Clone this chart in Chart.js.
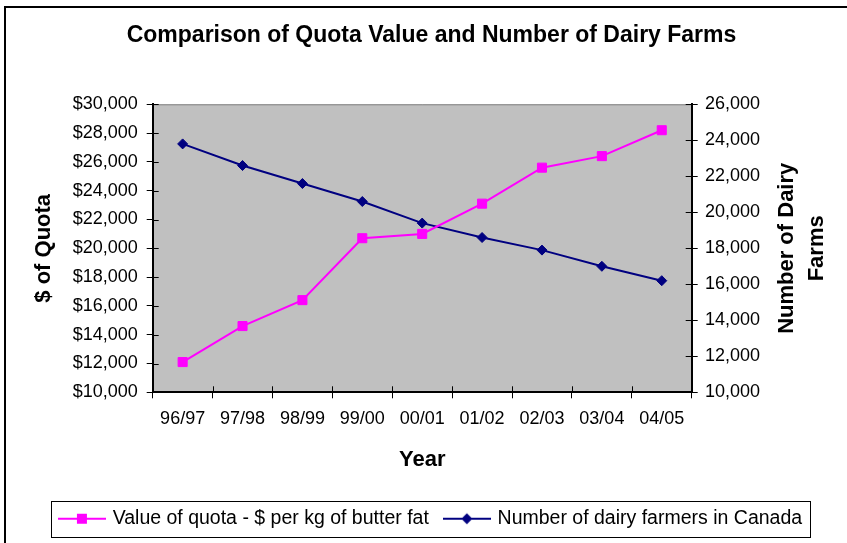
<!DOCTYPE html>
<html>
<head>
<meta charset="utf-8">
<script src="https://cdn.jsdelivr.net/npm/chart.js@4.4.1/dist/chart.umd.min.js"></script>
<style>
  html, body { margin: 0; padding: 0; background: #fff; }
  #wrap { width: 847px; height: 543px; }
</style>
</head>
<body>
<div id="wrap"><canvas id="canvas" width="847" height="543"></canvas></div>
<script>
const years = ['96/97', '97/98', '98/99', '99/00', '00/01', '01/02', '02/03', '03/04', '04/05'];
const quotaValues = [12100, 14600, 16400, 20700, 21000, 23100, 25600, 26400, 28200];
const farmCounts = [23800, 22600, 21600, 20600, 19400, 18600, 17900, 17000, 16200];
const quotaTicks = [10000, 12000, 14000, 16000, 18000, 20000, 22000, 24000, 26000, 28000, 30000];
const farmTicks = [10000, 12000, 14000, 16000, 18000, 20000, 22000, 24000, 26000];
const seriesNames = ['Value of quota - $ per kg of butter fat', 'Number of dairy farmers in Canada'];

const FONT = "'Liberation Sans', Arial, sans-serif";
Chart.defaults.font.family = FONT;
Chart.defaults.color = '#000';

// little line+marker pictures for the legend, like excel draws them
function legendIcon(color, shape) {
  const c = document.createElement('canvas');
  c.width = 48; c.height = 14;
  const g = c.getContext('2d');
  g.strokeStyle = color; g.lineWidth = 2;
  g.beginPath(); g.moveTo(0, 7); g.lineTo(48, 7); g.stroke();
  g.fillStyle = color;
  if (shape === 'rect') {
    g.fillRect(19, 2, 10, 10);
  } else {
    g.beginPath();
    g.moveTo(24, 1.5); g.lineTo(29.5, 7); g.lineTo(24, 12.5); g.lineTo(18.5, 7);
    g.closePath(); g.fill();
  }
  return c;
}
const icons = [legendIcon('#FF00FF', 'rect'), legendIcon('#000080', 'diamond')];

const excelLook = {
  id: 'excelLook',
  beforeDraw(chart) {
    const {ctx, chartArea: a} = chart;
    ctx.save();
    ctx.fillStyle = '#fff';
    ctx.fillRect(0, 0, chart.width, chart.height);
    ctx.fillStyle = '#C0C0C0';
    ctx.fillRect(a.left, a.top, a.right - a.left, a.bottom - a.top);
    ctx.strokeStyle = '#808080';
    ctx.lineWidth = 1;
    ctx.beginPath(); ctx.moveTo(a.left, a.top + 0.5); ctx.lineTo(a.right, a.top + 0.5); ctx.stroke();
    ctx.restore();
  },
  beforeDatasetsDraw(chart) {
    const {ctx, chartArea: a, scales} = chart;
    ctx.save();
    ctx.strokeStyle = '#000';
    ctx.lineWidth = 1;
    ctx.beginPath();
    // inner half of the crossing tick marks
    quotaTicks.forEach(v => {
      const y = Math.round(scales.y.getPixelForValue(v)) + 0.5;
      ctx.moveTo(a.left, y); ctx.lineTo(a.left + 6, y);
    });
    farmTicks.forEach(v => {
      const y = Math.round(scales.y1.getPixelForValue(v)) + 0.5;
      ctx.moveTo(a.right, y); ctx.lineTo(a.right - 6, y);
    });
    const half = (scales.x.getPixelForValue(1) - scales.x.getPixelForValue(0)) / 2;
    for (let i = 0; i <= years.length; i++) {
      const x = Math.round(scales.x.getPixelForValue(i) - half) + 0.5;
      ctx.moveTo(x, a.bottom); ctx.lineTo(x, a.bottom - 6);
    }
    ctx.stroke();
    // outer frame of the chart object
    ctx.lineWidth = 2;
    ctx.beginPath();
    ctx.moveTo(5, chart.height + 5); ctx.lineTo(5, 7); ctx.lineTo(chart.width + 5, 7);
    ctx.stroke();
    ctx.restore();
  },
  afterDraw(chart) {
    const {ctx, chartArea: a, scales} = chart;
    ctx.save();
    // right axis title reads bottom to top, in two lines
    ctx.font = 'bold 22px ' + FONT;
    ctx.fillStyle = '#000';
    ctx.textAlign = 'center';
    ctx.textBaseline = 'middle';
    const cy = (a.top + a.bottom) / 2;
    [['Number of Dairy', 95], ['Farms', 125]].forEach(([t, dx]) => {
      ctx.save();
      ctx.translate(scales.y1.left + dx, cy);
      ctx.rotate(-Math.PI / 2);
      ctx.fillText(t, 0, 0);
      ctx.restore();
    });
    // box round the legend
    const boxes = chart.legend.legendHitBoxes;
    const l = Math.min(...boxes.map(b => b.left)) - 10;
    const r = Math.max(...boxes.map(b => b.left + b.width)) + 8;
    const t = boxes[0].top - 8;
    const h = boxes[0].height + 16;
    ctx.strokeStyle = '#000';
    ctx.lineWidth = 1;
    ctx.strokeRect(Math.round(l) + 0.5, Math.round(t) + 0.5, Math.round(r - l), Math.round(h));
    ctx.restore();
  }
};

const canvas = document.getElementById('canvas');
new Chart(canvas, {
  type: 'line',
  data: {
    labels: years,
    datasets: [{
      label: seriesNames[0],
      data: quotaValues,
      yAxisID: 'y',
      borderColor: '#FF00FF',
      backgroundColor: '#FF00FF',
      borderWidth: 2,
      pointStyle: 'rect',
      pointRadius: 6.4,
      pointBorderWidth: 1,
      pointBackgroundColor: '#FF00FF',
      pointBorderColor: '#FF00FF',
      tension: 0
    }, {
      label: seriesNames[1],
      data: farmCounts,
      yAxisID: 'y1',
      borderColor: '#000080',
      backgroundColor: '#000080',
      borderWidth: 2,
      pointStyle: 'rectRot',
      pointRadius: 5,
      pointBorderWidth: 1,
      pointBackgroundColor: '#000080',
      pointBorderColor: '#000080',
      tension: 0
    }]
  },
  options: {
    responsive: false,
    animation: false,
    events: [],
    layout: { padding: { top: 10, left: 18, right: 2, bottom: 4.5 } },
    plugins: {
      title: {
        display: true,
        text: 'Comparison of Quota Value and Number of Dairy Farms',
        font: { size: 23, weight: 'bold' },
        color: '#000',
        padding: { top: 12.2, bottom: 54.5 }
      },
      legend: {
        position: 'bottom',
        labels: {
          font: { size: 19.5 },
          color: '#000',
          usePointStyle: true,
          pointStyleWidth: 42,
          padding: 17,
          generateLabels(chart) {
            const items = Chart.defaults.plugins.legend.labels.generateLabels(chart);
            items.forEach((it, i) => { it.pointStyle = icons[i]; });
            return items;
          }
        }
      },
      tooltip: { enabled: false }
    },
    scales: {
      x: {
        offset: true,
        grid: { offset: true, drawOnChartArea: false, tickLength: 6, tickColor: '#000', tickWidth: 1 },
        border: { color: '#000', width: 2 },
        ticks: { font: { size: 18 }, color: '#000', padding: 10, maxRotation: 0, autoSkip: false },
        title: { display: true, text: 'Year', font: { size: 22, weight: 'bold' }, color: '#000', padding: { top: 0, bottom: 18.8 } },
        afterFit(s) { s.height = 99.7; }
      },
      y: {
        position: 'left',
        min: 10000,
        max: 30000,
        afterBuildTicks(s) { s.ticks = quotaTicks.map(v => ({ value: v })); },
        grid: { drawOnChartArea: false, tickLength: 6, tickColor: '#000', tickWidth: 1 },
        border: { color: '#000', width: 2 },
        ticks: { font: { size: 18 }, color: '#000', padding: 9, callback: v => '$' + v.toLocaleString('en-US') },
        title: { display: true, text: '$ of Quota', font: { size: 22, weight: 'bold' }, color: '#000', padding: { top: 12.3, bottom: 0 } },
        afterFit(s) { s.width = 134.7; }
      },
      y1: {
        position: 'right',
        min: 10000,
        max: 26000,
        afterBuildTicks(s) { s.ticks = farmTicks.map(v => ({ value: v })); },
        grid: { drawOnChartArea: false, tickLength: 6, tickColor: '#000', tickWidth: 1 },
        border: { color: '#000', width: 2 },
        ticks: { font: { size: 18 }, color: '#000', padding: 7.3, callback: v => v.toLocaleString('en-US') },
        afterFit(s) { s.width = 153.3; }
      }
    }
  },
  plugins: [excelLook]
});
</script>
</body>
</html>
